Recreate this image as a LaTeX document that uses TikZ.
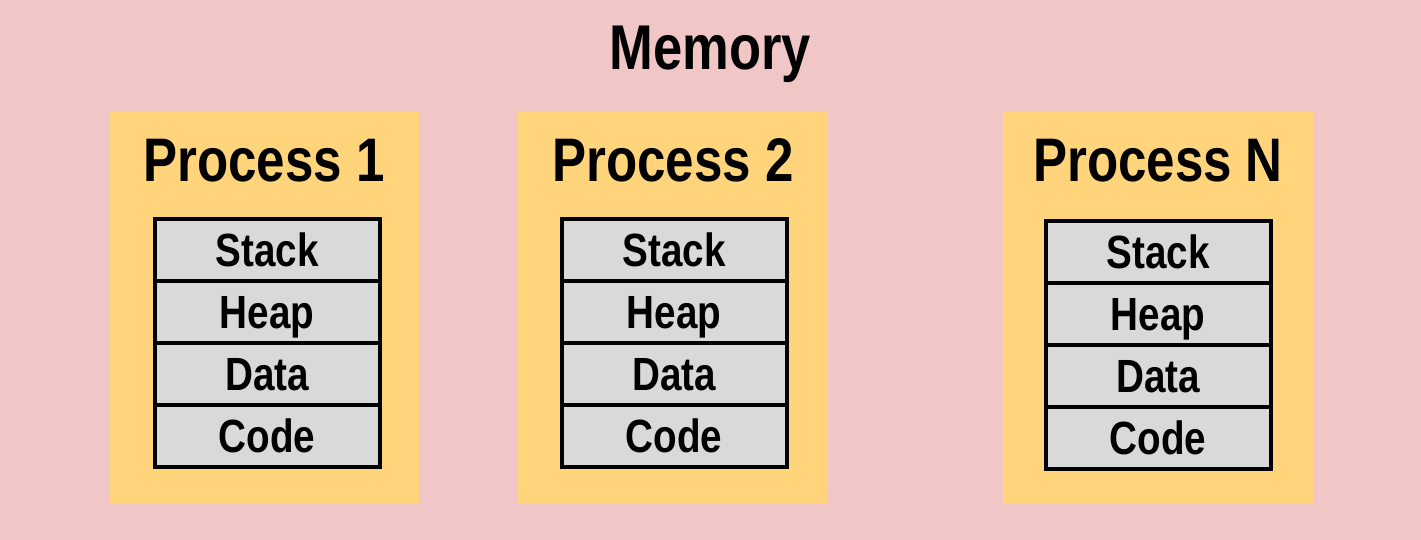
\documentclass[tikz,border=0pt]{standalone}
\usepackage{fontspec}
\setmainfont{Liberation Sans}[FakeStretch=0.83]
\usepackage{xcolor}
\usepackage{tikz}
\usetikzlibrary{positioning}
\definecolor{memcolor}{RGB}{241, 198, 199}
\definecolor{proccolor}{RGB}{255, 212, 122}
\definecolor{cellcolor}{RGB}{217, 217, 217}

\begin{document}
\begin{tikzpicture}[
    process/.style={fill=proccolor, minimum width=6.2cm, minimum height=7.82cm, inner sep=0pt},
    ptitle/.style={font=\fontsize{35}{40}\selectfont\bfseries, anchor=base, inner sep=0pt},
    cell/.style={draw, fill=cellcolor, line width=0.08cm, outer sep=0pt, minimum width=4.5cm, minimum height=1.24cm, inner sep=0pt, text height=0.88cm, text depth=0.2cm, font=\fontsize{26.5}{30}\selectfont\bfseries}
]
    % Memory background
    \fill[memcolor] (0,0) rectangle (28.42,10.8);
    \useasboundingbox (0,0) rectangle (28.42,10.8);
    \node[ptitle, font=\fontsize{36}{40}\selectfont\bfseries] (memory) at (14.21,9.4) {Memory};

    % Processes
    \node[process] (p1) at (5.28,4.65) {};
    \node[process] (p2) at (13.46,4.65) {};
    \node[process] (pn) at (23.16,4.65) {};

    \node[ptitle] (title1) at ([yshift=-1.4cm]p1.north) {Process 1};
    \node[ptitle] (title2) at ([yshift=-1.4cm]p2.north) {Process 2};
    \node[ptitle] (titlen) at ([yshift=-1.4cm]pn.north) {Process N};

    % Segments of process 1
    \node[cell, below=2.14cm of p1.north, xshift=0.06cm] (stack1) {Stack};
    \node[cell, below=0pt of stack1] (heap1) {Heap};
    \node[cell, below=0pt of heap1] (data1) {Data};
    \node[cell, below=0pt of data1] (code1) {Code};

    % Segments of process 2
    \node[cell, below=2.14cm of p2.north, xshift=0.02cm] (stack2) {Stack};
    \node[cell, below=0pt of stack2] (heap2) {Heap};
    \node[cell, below=0pt of heap2] (data2) {Data};
    \node[cell, below=0pt of data2] (code2) {Code};

    % Segments of process N
    \node[cell, below=2.18cm of pn.north] (stackn) {Stack};
    \node[cell, below=0pt of stackn] (heapn) {Heap};
    \node[cell, below=0pt of heapn] (datan) {Data};
    \node[cell, below=0pt of datan] (coden) {Code};
\end{tikzpicture}
\end{document}
